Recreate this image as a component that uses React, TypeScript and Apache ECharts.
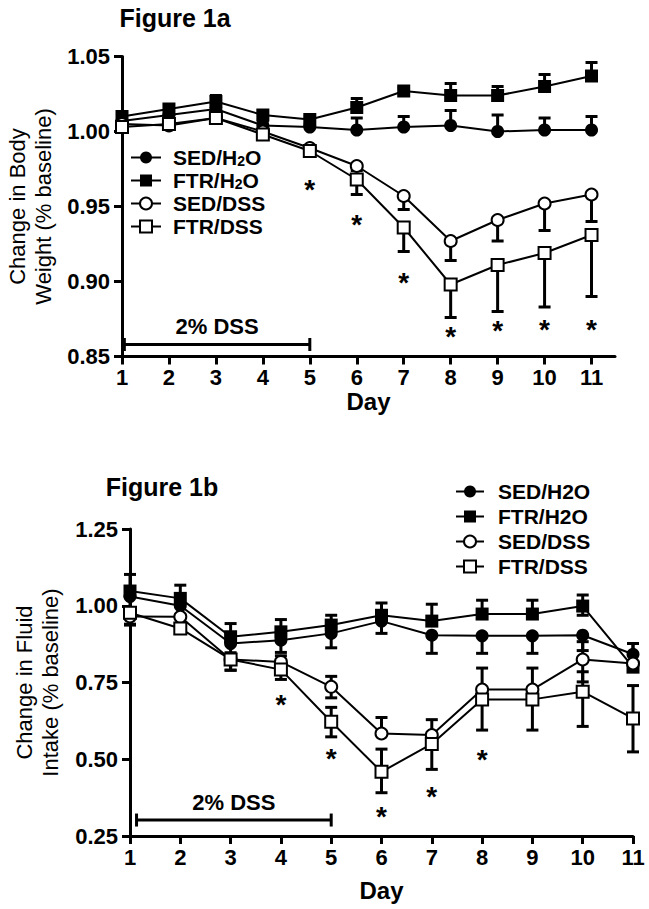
import React, { useEffect, useRef } from 'react';
import * as echarts from 'echarts';

const FONT = 'Liberation Sans, Arial, Helvetica, sans-serif';

const days = [1, 2, 3, 4, 5, 6, 7, 8, 9, 10, 11];

// ---- Figure 1a : Change in Body Weight (% baseline)
const bwSedH2O = [1.007, 1.011, 1.015, 1.004, 1.003, 1.001, 1.003, 1.004, 1.000, 1.001, 1.001];
const bwSedH2OUp = [0.003, 0.003, 0.004, 0.003, 0.002, 0.008, 0.007, 0.010, 0.011, 0.008, 0.009];
const bwSedH2ODown = [0, 0, 0, 0, 0, 0, 0, 0, 0, 0, 0];
const bwFtrH2O = [1.010, 1.015, 1.020, 1.011, 1.008, 1.016, 1.027, 1.024, 1.024, 1.030, 1.037];
const bwFtrH2OUp = [0.003, 0.003, 0.004, 0.003, 0.002, 0.006, 0.002, 0.008, 0.006, 0.008, 0.009];
const bwFtrH2ODown = [0, 0, 0, 0, 0, 0, 0, 0, 0, 0, 0];
const bwSedDss = [1.005, 1.004, 1.009, 1.000, 0.989, 0.977, 0.957, 0.927, 0.941, 0.952, 0.958];
const bwSedDssUp = [0, 0, 0, 0, 0, 0, 0, 0, 0, 0, 0];
const bwSedDssDown = [0.002, 0.002, 0.002, 0.003, 0.002, 0.003, 0.009, 0.013, 0.014, 0.018, 0.018];
const bwFtrDss = [1.003, 1.005, 1.009, 0.998, 0.987, 0.968, 0.936, 0.898, 0.911, 0.919, 0.931];
const bwFtrDssUp = [0, 0, 0, 0, 0, 0, 0, 0, 0, 0, 0];
const bwFtrDssDown = [0.002, 0.002, 0.002, 0.003, 0.003, 0.010, 0.016, 0.022, 0.031, 0.036, 0.041];
const bwStarDays = [5, 6, 7, 8, 9, 10, 11];
const bwStarY = [0.966, 0.943, 0.904, 0.868, 0.872, 0.873, 0.873];
const bwTicksY = [0.85, 0.9, 0.95, 1.0, 1.05];
const bwDssBar = [1.05, 5, 0.858];

// ---- Figure 1b : Change in Fluid Intake (% baseline)
const fiSedH2O = [1.030, 1.000, 0.877, 0.888, 0.910, 0.950, 0.904, 0.902, 0.902, 0.904, 0.842];
const fiSedH2OUp = [0, 0, 0, 0, 0, 0, 0, 0, 0, 0, 0.035];
const fiSedH2ODown = [0.090, 0.030, 0.030, 0.040, 0.047, 0.040, 0.059, 0.057, 0.057, 0.050, 0.030];
const fiFtrH2O = [1.048, 1.024, 0.899, 0.915, 0.937, 0.969, 0.950, 0.973, 0.973, 0.999, 0.800];
const fiFtrH2OUp = [0.054, 0.043, 0.043, 0.040, 0.032, 0.040, 0.055, 0.045, 0.045, 0.036, 0];
const fiFtrH2ODown = [0, 0, 0, 0, 0, 0, 0, 0, 0, 0.030, 0];
const fiSedDss = [0.965, 0.964, 0.825, 0.817, 0.736, 0.584, 0.579, 0.727, 0.727, 0.825, 0.812];
const fiSedDssUp = [0, 0, 0, 0.020, 0.034, 0.052, 0.050, 0.070, 0.070, 0.058, 0.065];
const fiSedDssDown = [0, 0, 0.035, 0, 0.036, 0, 0, 0, 0, 0.073, 0];
const fiFtrDss = [0.977, 0.926, 0.825, 0.792, 0.622, 0.459, 0.550, 0.695, 0.695, 0.720, 0.633];
const fiFtrDssUp = [0, 0, 0, 0, 0.047, 0.074, 0, 0, 0, 0.065, 0.107];
const fiFtrDssDown = [0.040, 0, 0.035, 0.032, 0.049, 0.068, 0.083, 0.100, 0.100, 0.113, 0.109];
const fiStarDays = [4, 5, 6, 7, 8];
const fiStarY = [0.700, 0.524, 0.337, 0.402, 0.521];
const fiTicksY = [0.25, 0.5, 0.75, 1.0, 1.25];
const fiDssBar = [1.13, 5, 0.302];

const legendNamesA = ['SED/H₂O', 'FTR/H₂O', 'SED/DSS', 'FTR/DSS'];
const legendNamesB = ['SED/H2O', 'FTR/H2O', 'SED/DSS', 'FTR/DSS'];
const symbols = ['circle', 'rect', 'emptyCircle', 'emptyRect'];

function lineSeries(name: string, values: number[], symbol: string, gi: number) {
  const empty = symbol.startsWith('empty');
  return {
    type: 'line',
    name,
    xAxisIndex: gi,
    yAxisIndex: gi,
    data: days.map((d, i) => [d, values[i]]),
    symbol,
    symbolSize: empty ? 12 : 13,
    showSymbol: true,
    lineStyle: { color: '#000', width: 2 },
    itemStyle: { color: '#000', borderColor: '#000', borderWidth: empty ? 3 : 0 },
    z: 3,
    emphasis: { disabled: true },
  };
}

function errSeries(values: number[], up: number[], down: number[], gi: number) {
  return {
    type: 'custom',
    xAxisIndex: gi,
    yAxisIndex: gi,
    silent: true,
    z: 2,
    encode: { x: 0, y: 1 },
    data: days.map((d, i) => [d, values[i], up[i], down[i]]),
    renderItem: (params: any, api: any) => {
      const x = api.value(0);
      const m = api.value(1);
      const u = api.value(2);
      const dn = api.value(3);
      const top = api.coord([x, m + u]);
      const bot = api.coord([x, m - dn]);
      const style = { stroke: '#000', lineWidth: 3 };
      const children: any[] = [];
      if (u > 0 || dn > 0) {
        children.push({ type: 'line', shape: { x1: top[0], y1: top[1], x2: bot[0], y2: bot[1] }, style });
      }
      if (u > 0) children.push({ type: 'line', shape: { x1: top[0] - 6, y1: top[1], x2: top[0] + 6, y2: top[1] }, style });
      if (dn > 0) children.push({ type: 'line', shape: { x1: bot[0] - 6, y1: bot[1], x2: bot[0] + 6, y2: bot[1] }, style });
      return { type: 'group', children };
    },
  };
}

function starSeries(xs: number[], ys: number[], gi: number) {
  return {
    type: 'scatter',
    xAxisIndex: gi,
    yAxisIndex: gi,
    silent: true,
    data: xs.map((d, i) => [d, ys[i]]),
    symbolSize: 1,
    itemStyle: { color: 'rgba(0,0,0,0)' },
    label: {
      show: true,
      formatter: '*',
      position: 'inside',
      fontSize: 28,
      fontWeight: 'bold',
      fontFamily: FONT,
      color: '#000',
      opacity: 1,
      offset: [0, 7],
    },
    z: 4,
  };
}

function dssSeries(bar: number[], gi: number) {
  return {
    type: 'custom',
    xAxisIndex: gi,
    yAxisIndex: gi,
    silent: true,
    z: 2,
    encode: { x: 0, y: 2 },
    data: [bar],
    renderItem: (params: any, api: any) => {
      const a = api.coord([api.value(0), api.value(2)]);
      const b = api.coord([api.value(1), api.value(2)]);
      const style = { stroke: '#000', lineWidth: 3 };
      return {
        type: 'group',
        children: [
          { type: 'line', shape: { x1: a[0], y1: a[1], x2: b[0], y2: b[1] }, style },
          { type: 'line', shape: { x1: a[0], y1: a[1] - 6.5, x2: a[0], y2: a[1] + 6.5 }, style },
          { type: 'line', shape: { x1: b[0], y1: b[1] - 6.5, x2: b[0], y2: b[1] + 6.5 }, style },
          {
            type: 'text',
            style: {
              text: '2% DSS',
              x: (a[0] + b[0]) / 2,
              y: a[1] - 18,
              textAlign: 'center',
              textVerticalAlign: 'middle',
              font: 'bold 22px ' + FONT,
              fill: '#000',
            },
          },
        ],
      };
    },
  };
}

const axisBase = {
  axisLine: { show: true, onZero: false, lineStyle: { color: '#000', width: 3 } },
  axisTick: { show: true, inside: false, length: 8, lineStyle: { color: '#000', width: 3 } },
  splitLine: { show: false },
};

const labelStyle = { color: '#000', fontSize: 22, fontWeight: 'bold', fontFamily: FONT };

export default function App() {
  const ref = useRef<HTMLDivElement>(null);
  useEffect(() => {
    if (!ref.current) return;
    const chart = echarts.init(ref.current, undefined, { renderer: 'svg' });
    const option: any = {
      animation: false,
      backgroundColor: '#fff',
      title: [
        {
          text: 'Figure 1a',
          left: 175,
          top: 5,
          textAlign: 'center',
          padding: 0,
          textStyle: { fontSize: 25, fontWeight: 'bold', color: '#000', fontFamily: FONT },
        },
        {
          text: 'Figure 1b',
          left: 162,
          top: 474,
          textAlign: 'center',
          padding: 0,
          textStyle: { fontSize: 25, fontWeight: 'bold', color: '#000', fontFamily: FONT },
        },
      ],
      grid: [
        { left: 122, right: 34, top: 56.5, height: 300, containLabel: false, outerBoundsMode: 'none' },
        { left: 130, right: 16, top: 529, height: 307, containLabel: false, outerBoundsMode: 'none' },
      ],
      xAxis: [
        {
          ...axisBase,
          type: 'value',
          gridIndex: 0,
          min: 1,
          max: 11.5,
          axisTick: { ...axisBase.axisTick, customValues: days },
          axisLabel: { ...labelStyle, margin: 10, customValues: days },
          name: 'Day',
          nameLocation: 'middle',
          nameGap: 33,
          nameTextStyle: { color: '#000', fontSize: 24, fontWeight: 'bold', fontFamily: FONT },
        },
        {
          ...axisBase,
          type: 'value',
          gridIndex: 1,
          min: 1,
          max: 11,
          interval: 1,
          axisLabel: { ...labelStyle, margin: 10 },
          name: 'Day',
          nameLocation: 'middle',
          nameGap: 42,
          nameTextStyle: { color: '#000', fontSize: 24, fontWeight: 'bold', fontFamily: FONT },
        },
      ],
      yAxis: [
        {
          ...axisBase,
          type: 'value',
          gridIndex: 0,
          min: 0.85,
          max: 1.05,
          axisTick: { ...axisBase.axisTick, customValues: bwTicksY },
          axisLabel: { ...labelStyle, margin: 12, customValues: bwTicksY, formatter: (v: number) => v.toFixed(2) },
          name: 'Change in Body\nWeight (% baseline)',
          nameLocation: 'middle',
          nameRotate: 90,
          nameGap: 66,
          nameTextStyle: { color: '#000', fontSize: 22, lineHeight: 26, fontFamily: FONT },
        },
        {
          ...axisBase,
          type: 'value',
          gridIndex: 1,
          min: 0.25,
          max: 1.25,
          axisTick: { ...axisBase.axisTick, customValues: fiTicksY },
          axisLabel: { ...labelStyle, margin: 12, customValues: fiTicksY, formatter: (v: number) => v.toFixed(2) },
          name: 'Change in Fluid\nIntake (% baseline)',
          nameLocation: 'middle',
          nameRotate: 90,
          nameGap: 67,
          nameTextStyle: { color: '#000', fontSize: 22, lineHeight: 26, fontFamily: FONT },
        },
      ],
      legend: [
        {
          orient: 'vertical',
          left: 130,
          top: 147,
          padding: 0,
          itemWidth: 30,
          itemHeight: 15,
          itemGap: 2,
          data: legendNamesA,
          selectedMode: false,
          formatter: (n: string) => n.replace('₂', '{s|2}'),
          textStyle: {
            color: '#000',
            fontSize: 21,
            fontWeight: 'bold',
            fontFamily: FONT,
            padding: [0, 0, 0, 7],
            rich: {
              s: { fontSize: 14, fontWeight: 'bold', fontFamily: FONT, color: '#000', padding: [7, 0, 0, 0] },
            },
          },
        },
        {
          orient: 'vertical',
          left: 455,
          top: 481,
          padding: 0,
          itemWidth: 28,
          itemHeight: 15,
          itemGap: 4,
          data: legendNamesB,
          selectedMode: false,
          textStyle: {
            color: '#000',
            fontSize: 21,
            fontWeight: 'bold',
            fontFamily: FONT,
            padding: [0, 0, 0, 9],
          },
        },
      ],
      series: [
        errSeries(bwSedH2O, bwSedH2OUp, bwSedH2ODown, 0),
        errSeries(bwFtrH2O, bwFtrH2OUp, bwFtrH2ODown, 0),
        errSeries(bwSedDss, bwSedDssUp, bwSedDssDown, 0),
        errSeries(bwFtrDss, bwFtrDssUp, bwFtrDssDown, 0),
        lineSeries(legendNamesA[0], bwSedH2O, symbols[0], 0),
        lineSeries(legendNamesA[1], bwFtrH2O, symbols[1], 0),
        lineSeries(legendNamesA[2], bwSedDss, symbols[2], 0),
        lineSeries(legendNamesA[3], bwFtrDss, symbols[3], 0),
        starSeries(bwStarDays, bwStarY, 0),
        dssSeries(bwDssBar, 0),
        errSeries(fiSedH2O, fiSedH2OUp, fiSedH2ODown, 1),
        errSeries(fiFtrH2O, fiFtrH2OUp, fiFtrH2ODown, 1),
        errSeries(fiSedDss, fiSedDssUp, fiSedDssDown, 1),
        errSeries(fiFtrDss, fiFtrDssUp, fiFtrDssDown, 1),
        lineSeries(legendNamesB[0], fiSedH2O, symbols[0], 1),
        lineSeries(legendNamesB[1], fiFtrH2O, symbols[1], 1),
        lineSeries(legendNamesB[2], fiSedDss, symbols[2], 1),
        lineSeries(legendNamesB[3], fiFtrDss, symbols[3], 1),
        starSeries(fiStarDays, fiStarY, 1),
        dssSeries(fiDssBar, 1),
      ],
    };
    chart.setOption(option);
    return () => chart.dispose();
  }, []);
  return (
    <div
      ref={ref}
      style={{ position: 'absolute', left: 0, top: 0, width: 649, height: 909, background: '#fff' }}
    />
  );
}
